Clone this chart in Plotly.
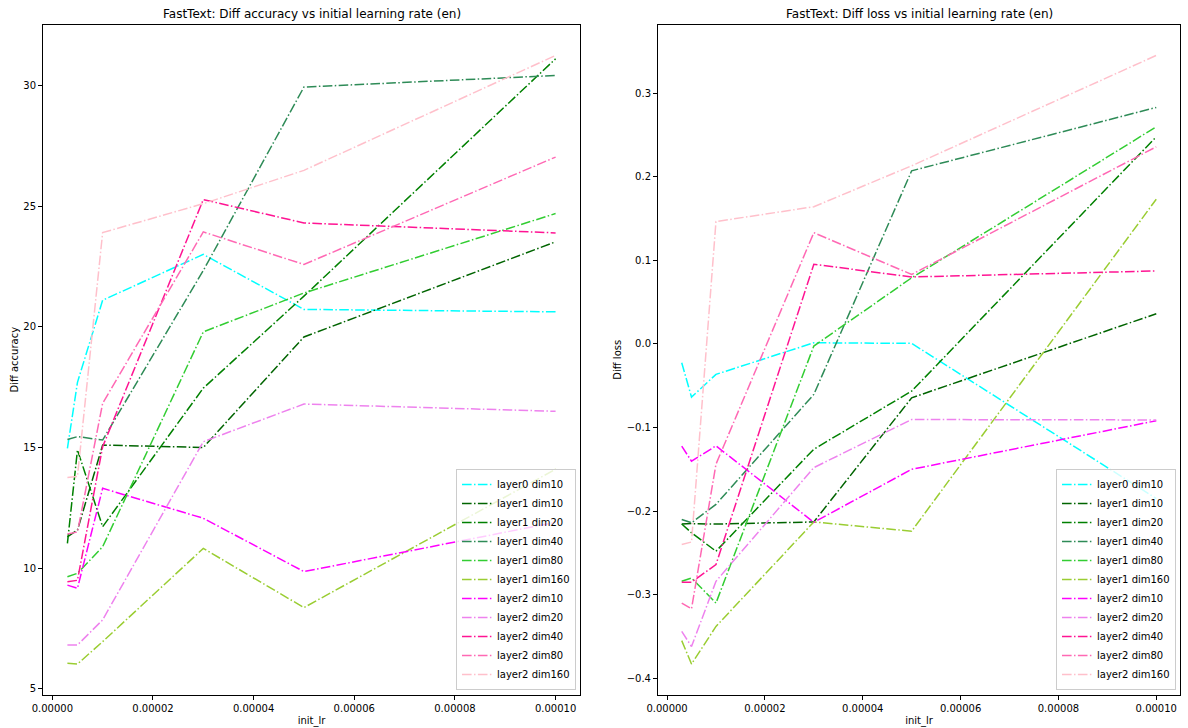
import plotly.graph_objects as go

# ---------------- data ----------------
init_lr = [3e-6, 5e-6, 1e-5, 3e-5, 5e-5, 1e-4]

series_names = ["layer0 dim10", "layer1 dim10", "layer1 dim20", "layer1 dim40",
                "layer1 dim80", "layer1 dim160", "layer2 dim10", "layer2 dim20",
                "layer2 dim40", "layer2 dim80", "layer2 dim160"]
series_colors = ["cyan", "darkgreen", "green", "seagreen", "limegreen", "yellowgreen",
                 "magenta", "violet", "deeppink", "hotpink", "pink"]

# Diff accuracy
acc_l0_d10 = [14.96, 17.7, 21.1, 23.0, 20.72, 20.62]
acc_l1_d10 = [11.3, 11.58, 15.1, 15.0, 19.58, 23.52]
acc_l1_d20 = [11.03, 14.9, 11.72, 17.46, 21.27, 31.1]
acc_l1_d40 = [15.33, 15.45, 15.31, 22.33, 29.93, 30.41]
acc_l1_d80 = [9.65, 9.79, 10.89, 19.79, 21.4, 24.69]
acc_l1_d160 = [6.06, 6.03, 6.96, 10.82, 8.37, 14.1]
acc_l2_d10 = [9.30, 9.17, 13.31, 12.07, 9.86, 11.9]
acc_l2_d20 = [6.82, 6.82, 7.86, 15.24, 16.8, 16.5]
acc_l2_d40 = [9.44, 9.5, 15.03, 25.27, 24.3, 23.89]
acc_l2_d80 = [11.42, 11.5, 16.83, 23.93, 22.58, 27.03]
acc_l2_d160 = [13.76, 13.8, 23.9, 25.1, 26.48, 31.24]

# Diff loss
loss_l0_d10 = [-0.0226, -0.0637, -0.0365, 0.0013, 0.0006, -0.185]
loss_l1_d10 = [-0.2154, -0.215, -0.2155, -0.213, -0.0645, 0.036]
loss_l1_d20 = [-0.2154, -0.226, -0.248, -0.126, -0.0565, 0.2477]
loss_l1_d40 = [-0.210, -0.214, -0.192, -0.0605, 0.207, 0.2828]
loss_l1_d80 = [-0.284, -0.280, -0.310, -0.0026, 0.079, 0.2596]
loss_l1_d160 = [-0.355, -0.383, -0.338, -0.213, -0.224, 0.173]
loss_l2_d10 = [-0.1224, -0.1404, -0.122, -0.2134, -0.150, -0.092]
loss_l2_d20 = [-0.344, -0.362, -0.284, -0.148, -0.0905, -0.091]
loss_l2_d40 = [-0.285, -0.285, -0.264, 0.0952, 0.080, 0.0872]
loss_l2_d80 = [-0.310, -0.317, -0.144, 0.133, 0.083, 0.2357]
loss_l2_d160 = [-0.240, -0.237, 0.1463, 0.164, 0.213, 0.345]

acc_series = [acc_l0_d10, acc_l1_d10, acc_l1_d20, acc_l1_d40, acc_l1_d80, acc_l1_d160,
              acc_l2_d10, acc_l2_d20, acc_l2_d40, acc_l2_d80, acc_l2_d160]
loss_series = [loss_l0_d10, loss_l1_d10, loss_l1_d20, loss_l1_d40, loss_l1_d80, loss_l1_d160,
               loss_l2_d10, loss_l2_d20, loss_l2_d40, loss_l2_d80, loss_l2_d160]

acc_yticks = [5, 10, 15, 20, 25, 30]
loss_yticks = [-0.4, -0.3, -0.2, -0.1, 0.0, 0.1, 0.2, 0.3]
x_ticks = [0, 2e-5, 4e-5, 6e-5, 8e-5, 1e-4]

# ---------------- helpers ----------------
W, H = 1188, 728
FONT = "DejaVu Sans"
DASH = "9.6px,2.4px,1.5px,2.4px"


def padded(values):
    lo, hi = min(values), max(values)
    d = hi - lo
    return [lo - 0.05 * d, hi + 0.05 * d]


def flat(lists):
    return [v for l in lists for v in l]


fig = go.Figure()
for name, color, ya in zip(series_names, series_colors, acc_series):
    fig.add_trace(go.Scatter(x=init_lr, y=ya, name=name, mode="lines",
                             line=dict(color=color, width=1.5, dash=DASH),
                             xaxis="x", yaxis="y", legend="legend"))
for name, color, yl in zip(series_names, series_colors, loss_series):
    fig.add_trace(go.Scatter(x=init_lr, y=yl, name=name, mode="lines",
                             line=dict(color=color, width=1.5, dash=DASH),
                             xaxis="x2", yaxis="y2", legend="legend2"))

xr = padded(init_lr)
top_px, bot_px = 25, 694.5
ydom = [(H - bot_px) / H, (H - top_px) / H]

axis_common = dict(showline=True, mirror=True, linecolor="black", linewidth=1,
                   ticks="outside", ticklen=4, tickwidth=1, tickcolor="black",
                   showgrid=False, zeroline=False,
                   tickfont=dict(family=FONT, size=10, color="black"))

legend_common = dict(xanchor="right", yanchor="bottom", xref="paper", yref="paper",
                     bgcolor="rgba(255,255,255,0.8)", bordercolor="#cccccc", borderwidth=1,
                     font=dict(family=FONT, size=10, color="black"),
                     tracegroupgap=0, itemwidth=30)

fig.update_layout(
    width=W, height=H,
    margin=dict(l=0, r=0, t=0, b=0),
    paper_bgcolor="white", plot_bgcolor="white",
    font=dict(family=FONT, size=10, color="black"),
    xaxis=dict(domain=[43 / W, 580 / W], range=xr, tickvals=x_ticks, tickformat=".5f",
               title=dict(text="init_lr", standoff=4, font=dict(family=FONT, size=10)),
               anchor="y", automargin=False, **axis_common),
    yaxis=dict(domain=ydom, range=padded(flat(acc_series)), tickvals=acc_yticks,
               title=dict(text="Diff accuracy", standoff=2, font=dict(family=FONT, size=10)),
               anchor="x", automargin=False, **axis_common),
    xaxis2=dict(domain=[658 / W, 1180 / W], range=xr, tickvals=x_ticks, tickformat=".5f",
                title=dict(text="init_lr", standoff=4, font=dict(family=FONT, size=10)),
                anchor="y2", automargin=False, **axis_common),
    yaxis2=dict(domain=ydom, range=padded(flat(loss_series)), tickvals=loss_yticks,
                tickformat=".1f",
                title=dict(text="Diff loss", standoff=3, font=dict(family=FONT, size=10)),
                anchor="x2", automargin=False, **axis_common),
    legend=dict(x=576 / W, y=(H - 690) / H, **legend_common),
    legend2=dict(x=1176 / W, y=(H - 690) / H, **legend_common),
    annotations=[
        dict(text="FastText: Diff accuracy vs initial learning rate (en)",
             x=(43 + 580) / 2 / W, y=(H - 14) / H, xref="paper", yref="paper",
             xanchor="center", yanchor="middle", showarrow=False,
             font=dict(family=FONT, size=12, color="black")),
        dict(text="FastText: Diff loss vs initial learning rate (en)",
             x=(658 + 1180) / 2 / W, y=(H - 14) / H, xref="paper", yref="paper",
             xanchor="center", yanchor="middle", showarrow=False,
             font=dict(family=FONT, size=12, color="black")),
    ],
)

fig.write_html("out.html")
